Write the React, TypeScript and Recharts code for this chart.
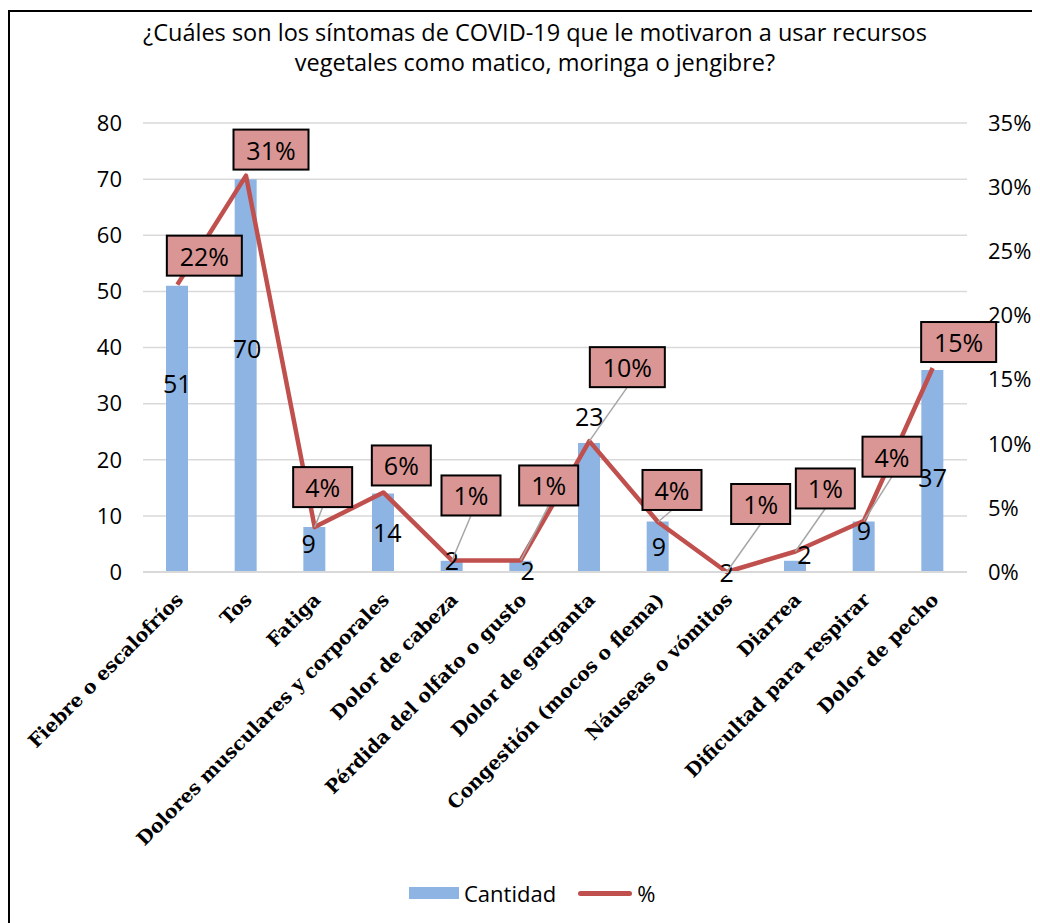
import React from "react";
import {
  ComposedChart,
  Bar,
  Line,
  XAxis,
  YAxis,
  CartesianGrid,
  Legend,
  LabelList,
} from "recharts";

const categories = [
  "Fiebre o escalofríos",
  "Tos",
  "Fatiga",
  "Dolores musculares y corporales",
  "Dolor de cabeza",
  "Pérdida del olfato o gusto",
  "Dolor de garganta",
  "Congestión (mocos o flema)",
  "Náuseas o vómitos",
  "Diarrea",
  "Dificultad para respirar",
  "Dolor de pecho",
];
const cantidad = [51, 70, 8, 14, 2, 2, 23, 9, 0, 2, 9, 36];
const cantidadLabels = ["51", "70", "9", "14", "2", "2", "23", "9", "2", "2", "9", "37"];
const porcentaje = [0.224, 0.309, 0.035, 0.062, 0.009, 0.009, 0.102, 0.039, 0, 0.016, 0.04, 0.159];
const porcentajeLabels = ["22%", "31%", "4%", "6%", "1%", "1%", "10%", "4%", "1%", "1%", "4%", "15%"];
const leftTicks = [0, 10, 20, 30, 40, 50, 60, 70, 80];
const rightTicks = [0, 0.05, 0.1, 0.15, 0.2, 0.25, 0.3, 0.35];
const titleLines = [
  "¿Cuáles son los síntomas de COVID-19 que le motivaron a usar recursos",
  "vegetales como matico, moringa o jengibre?",
];

const data = categories.map((name, i) => ({
  name,
  cantidad: cantidad[i],
  pct: porcentaje[i],
}));

// where each data label was dragged to (label centre, relative to its point)
const pctOffsets = [
  [27, -29], [25, -26], [8, -40], [18, -27], [19, -65], [28, -75],
  [38, -74], [14, -32], [34, -68], [30, -63], [28, -64], [26, -26],
];
const countOffsets = [
  [0, 97], [1, 169], [-6, 16], [4, 39], [0, -1], [7, 9],
  [0, -27], [1, 25], [0, 0], [9, -7], [0, 9], [0, 107],
];

const SANS = "'Open Sans', sans-serif";
const BLUE = "#8EB4E3";
const RED = "#C0504D";
const GRID = "#D9D9D9";

const PctLabel = (props: any) => {
  const { x, y, index } = props;
  const text = porcentajeLabels[index];
  const [dx, dy] = pctOffsets[index];
  const cx = x + dx;
  const cy = y + dy;
  const w = 27 + 16 * text.length;
  const h = 40;
  const gap = y - (cy + h / 2);
  return (
    <g>
      {gap > 10 && (
        <line x1={cx} y1={cy + h / 2} x2={x} y2={y} stroke="#A6A6A6" strokeWidth={1.5} />
      )}
      <rect x={cx - w / 2} y={cy - h / 2} width={w} height={h} fill="#DA9694" stroke="#000" strokeWidth={2} />
      <text x={cx} y={cy} textAnchor="middle" dominantBaseline="central" fontFamily={SANS} fontSize={25} fill="#000">
        {text}
      </text>
    </g>
  );
};

// count labels hang off an invisible line on the left axis so that the
// zero bar still gets its label
const CountLabel = (props: any) => {
  const { x, y, index } = props;
  const [dx, dy] = countOffsets[index];
  return (
    <text
      x={x + dx}
      y={y + dy}
      textAnchor="middle"
      dominantBaseline="central"
      fontFamily={SANS}
      fontSize={25}
      fill="#000"
    >
      {cantidadLabels[index]}
    </text>
  );
};

const CategoryTick = ({ x, y, payload }: any) => {
  const tx = x + 7;
  const ty = y + 29;
  return (
    <text
      x={tx}
      y={ty}
      transform={`rotate(-45 ${tx} ${ty})`}
      textAnchor="end"
      fontFamily="'DejaVu Serif', serif"
      fontWeight="bold"
      fontSize={19}
      fill="#000"
    >
      {payload.value}
    </text>
  );
};

const LegendContent = () => (
  <div
    style={{
      display: "flex",
      alignItems: "center",
      height: 30,
      paddingLeft: 399,
      fontFamily: SANS,
      fontSize: 22,
      color: "#000",
    }}
  >
    <span style={{ display: "inline-block", width: 50, height: 12, background: BLUE }} />
    <span style={{ marginLeft: 5 }}>Cantidad</span>
    <span style={{ display: "inline-block", width: 54, height: 5, background: RED, borderRadius: 3, marginLeft: 22 }} />
    <span style={{ marginLeft: 5 }}>%</span>
  </div>
);

export default function App() {
  return (
    <div
      style={{
        position: "relative",
        top: 2,
        width: 1040,
        height: 920,
        border: "2px solid #000",
        background: "#fff",
      }}
    >
      <div
        style={{
          position: "absolute",
          left: 0,
          top: 5,
          width: 1050,
          textAlign: "center",
          fontFamily: SANS,
          fontSize: 23.5,
          lineHeight: "30px",
          color: "#000",
        }}
      >
        {titleLines.map((t) => (
          <div key={t}>{t}</div>
        ))}
      </div>
      <ComposedChart
        width={1030}
        height={908}
        data={data}
        margin={{ top: 111, right: 13, left: 73, bottom: 12 }}
      >
        <CartesianGrid yAxisId="left" vertical={false} stroke={GRID} strokeWidth={1.5} />
        <XAxis
          dataKey="name"
          interval={0}
          height={306}
          tickLine={false}
          tickSize={0}
          tickMargin={0}
          axisLine={{ stroke: GRID, strokeWidth: 2 }}
          tick={<CategoryTick />}
        />
        <YAxis
          yAxisId="left"
          domain={[0, 80]}
          ticks={leftTicks}
          width={60}
          axisLine={false}
          tickLine={false}
          tickSize={0}
          tickMargin={21}
          tick={{ fontFamily: SANS, fontSize: 22, fill: "#000" }}
        />
        <YAxis
          yAxisId="right"
          orientation="right"
          domain={[0, 0.35]}
          ticks={rightTicks}
          width={60}
          axisLine={false}
          tickLine={false}
          tickSize={0}
          tickMargin={21}
          tickFormatter={(v: number) => `${Math.round(v * 100)}%`}
          tick={{ fontFamily: SANS, fontSize: 22, fill: "#000" }}
        />
        <Legend
          verticalAlign="bottom"
          content={<LegendContent />}
          wrapperStyle={{ left: 0, width: 1030 }}
        />
        <Bar yAxisId="left" dataKey="cantidad" name="Cantidad" fill={BLUE} barSize={22} isAnimationActive={false} />
        <Line
          yAxisId="left"
          dataKey="cantidad"
          name="Cantidad etiquetas"
          stroke="none"
          dot={false}
          activeDot={false}
          legendType="none"
          isAnimationActive={false}
        >
          <LabelList dataKey="cantidad" content={<CountLabel />} />
        </Line>
        <Line
          yAxisId="right"
          dataKey="pct"
          name="%"
          type="linear"
          stroke={RED}
          strokeWidth={4.5}
          strokeLinejoin="round"
          dot={false}
          activeDot={false}
          isAnimationActive={false}
        >
          <LabelList dataKey="pct" content={<PctLabel />} />
        </Line>
      </ComposedChart>
    </div>
  );
}
